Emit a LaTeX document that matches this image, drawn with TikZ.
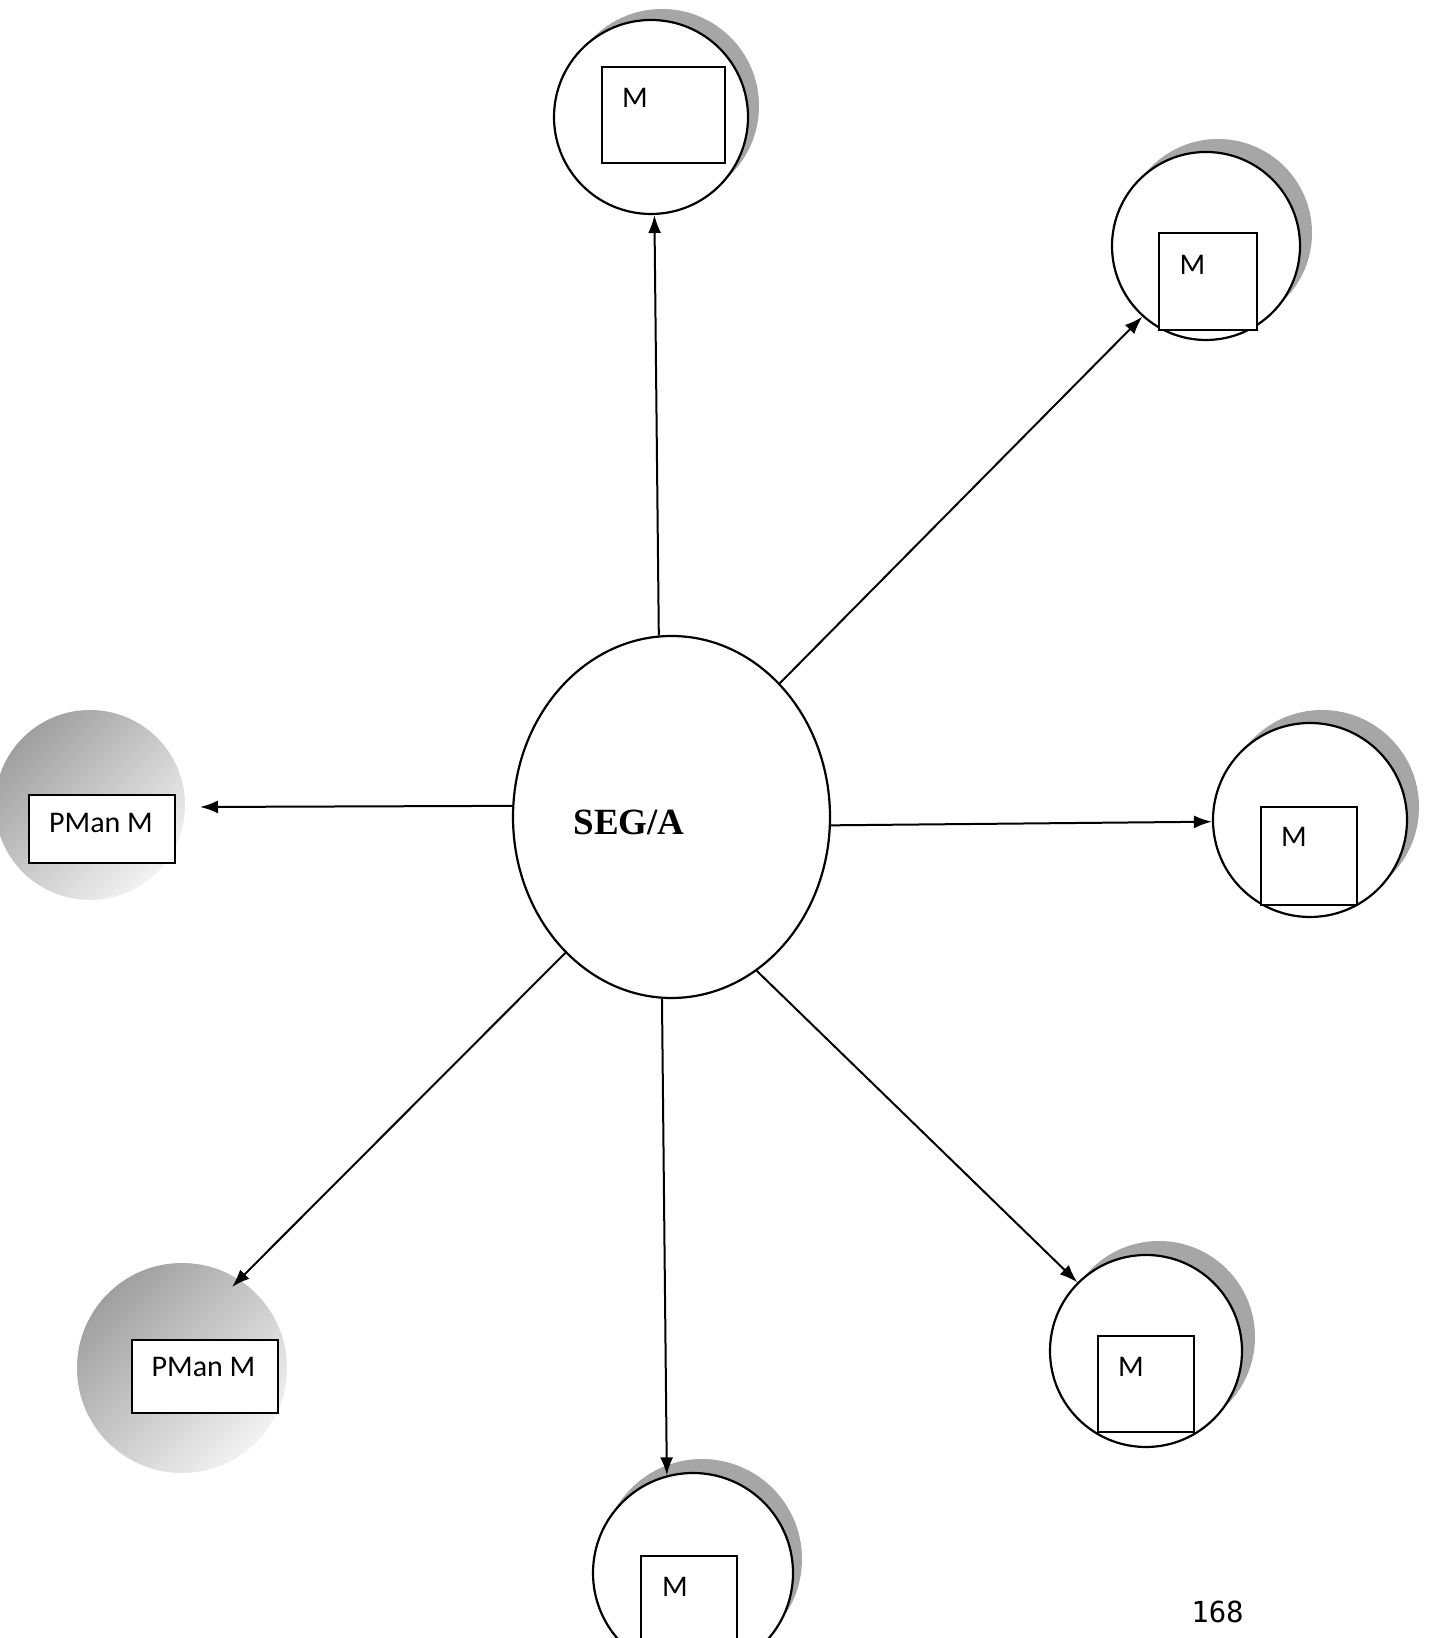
\documentclass[tikz,border=0pt]{standalone}
\usepackage{fontspec}
\setmainfont{Liberation Serif}
\newfontfamily\carlito{Carlito}
\newfontfamily\monof{DejaVu Sans Mono}
\usetikzlibrary{shapes.geometric,arrows.meta}
\begin{document}
\begin{tikzpicture}[x=1pt,y=1pt,
  sat/.style={circle,draw=black,line width=2.2pt,fill=white,minimum size=#1,inner sep=0pt},
  shad/.style={circle,fill=gray!70,minimum size=#1,inner sep=0pt},
  pdisc/.style={circle,minimum size=#1,inner sep=0pt,top color=gray!75,bottom color=gray!10,shading angle=45},
  mbox/.style={draw=black,line width=2pt,fill=white,inner sep=0pt},
  mlab/.style={font=\carlito\fontsize{30}{30}\selectfont,inner sep=0pt,anchor=base},
  conn/.style={line width=2pt,-{Latex[length=18pt,width=13pt]}}]
\clip (0,0) rectangle (1432,1638);
\fill[white] (0,0) rectangle (1432,1638);

% PMan discs
\node[pdisc=190pt] (p1) at (90,833) {};
\node[pdisc=210pt] (p2) at (182,270) {};

% shadows
\node[shad=194pt] (sh1) at (662,1532) {};
\node[shad=188pt] (sh2) at (1218,1405) {};
\node[shad=194pt] (sh3) at (1322,831) {};
\node[shad=192pt] (sh4) at (1159,301) {};
\node[shad=200pt] (sh5) at (702,79) {};

% satellite circles
\node[sat=194pt] (c1) at (651,1521) {};
\node[sat=188pt] (c2) at (1206,1392) {};
\node[sat=194pt] (c3) at (1310,818) {};
\node[sat=192pt] (c4) at (1146,287) {};
\node[sat=200pt] (c5) at (693,65) {};

% boxes
\node[mbox,minimum width=123pt,minimum height=96pt] (b1) at (663.5,1523) {};
\node[mbox,minimum width=98pt,minimum height=97pt] (b2) at (1208,1356.5) {};
\node[mbox,minimum width=96pt,minimum height=98pt] (b3) at (1309,782) {};
\node[mbox,minimum width=96pt,minimum height=96pt] (b4) at (1146,254) {};
\node[mbox,minimum width=96pt,minimum height=110pt] (b5) at (689,27) {};
\node[mbox,minimum width=146pt,minimum height=68pt] (pb1) at (102,809) {};
\node[mbox,minimum width=146pt,minimum height=73pt] (pb2) at (205,261.5) {};

% labels
\node[mlab] (m1) at (635,1530) {M};
\node[mlab] (m2) at (1192.5,1363) {M};
\node[mlab] (m3) at (1294,791) {M};
\node[mlab] (m4) at (1131,261) {M};
\node[mlab] (m5) at (675,41) {M};
\node[mlab] (pl1) at (101,805) {PMan M};
\node[mlab] (pl2) at (203.5,261) {PMan M};

% central ellipse
\node[ellipse,draw=black,line width=2.2pt,fill=white,minimum width=317pt,minimum height=362pt,inner sep=0pt] (seg) at (671.5,821) {};
\node[font=\bfseries\fontsize{37}{37}\selectfont,inner sep=0pt,anchor=base] (segl) at (629,803) {SEG/A};

% page number
\node[font=\monof\fontsize{29}{29}\selectfont,inner sep=0pt,anchor=base] (pg) at (1217.5,16) {168};

% connectors
\coordinate (t6) at (200,831);
\coordinate (t7) at (232,351);
\draw[conn] (seg.94) -- (c1.272);
\draw[conn] (seg.51) -- (c2.228);
\draw[conn] (seg.357) -- (c3.181);
\draw[conn] (seg.299) -- (c4.135);
\draw[conn] (seg.267) -- (c5.105);
\draw[conn] (seg.176) -- (t6);
\draw[conn] (seg.232) -- (t7);
\end{tikzpicture}
\end{document}
